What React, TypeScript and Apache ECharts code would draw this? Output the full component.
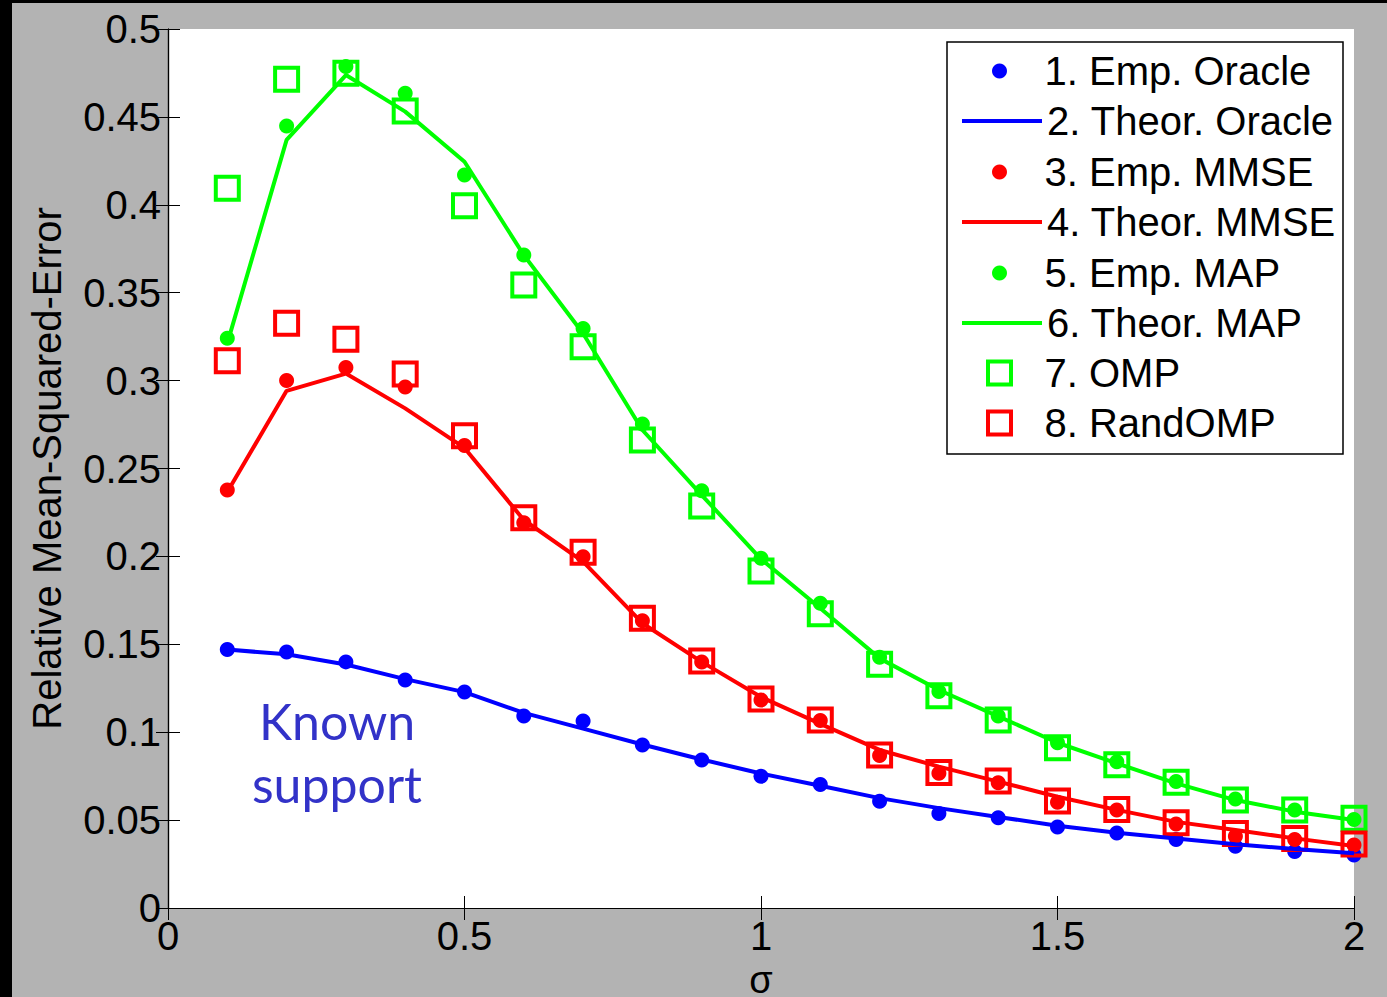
import React, { useEffect, useRef } from "react";
import * as echarts from "echarts";

const sigma = [0.1, 0.2, 0.3, 0.4, 0.5, 0.6, 0.7, 0.8, 0.9, 1.0, 1.1, 1.2, 1.3, 1.4, 1.5, 1.6, 1.7, 1.8, 1.9, 2.0];
const empOracle = [0.147, 0.1456, 0.140, 0.1297, 0.1229, 0.1092, 0.1064, 0.0927, 0.0842, 0.0749, 0.0702, 0.0607, 0.0537, 0.0513, 0.0461, 0.0426, 0.0389, 0.0351, 0.0322, 0.0301];
const theorOracle = [0.147, 0.1443, 0.1385, 0.1302, 0.1228, 0.111, 0.102, 0.093, 0.0845, 0.0765, 0.0695, 0.0625, 0.0568, 0.0518, 0.0468, 0.0428, 0.0395, 0.0363, 0.0335, 0.0312];
const empMMSE = [0.2378, 0.3, 0.3074, 0.2963, 0.2631, 0.2191, 0.1998, 0.1634, 0.1399, 0.1183, 0.1066, 0.0867, 0.0767, 0.0712, 0.0601, 0.0557, 0.0478, 0.0408, 0.0389, 0.0358];
const theorMMSE = [0.2366, 0.2942, 0.304, 0.2842, 0.2617, 0.2207, 0.197, 0.162, 0.14, 0.12, 0.1047, 0.0899, 0.0804, 0.0719, 0.0633, 0.0558, 0.049, 0.0444, 0.0396, 0.0353];
const empMAP = [0.3241, 0.4448, 0.4786, 0.4634, 0.417, 0.3714, 0.3297, 0.2753, 0.2374, 0.1989, 0.1733, 0.1426, 0.1231, 0.1092, 0.094, 0.0832, 0.0719, 0.062, 0.0557, 0.0504];
const theorMAP = [0.3212, 0.4369, 0.4738, 0.453, 0.4245, 0.3714, 0.3268, 0.2719, 0.2349, 0.1985, 0.1705, 0.142, 0.124, 0.109, 0.094, 0.0823, 0.0709, 0.0614, 0.0548, 0.05];
const omp = [0.4094, 0.4714, 0.4748, 0.4533, 0.3995, 0.3544, 0.3193, 0.2662, 0.2287, 0.1917, 0.1674, 0.1386, 0.1208, 0.1069, 0.0911, 0.0815, 0.0715, 0.0614, 0.0557, 0.051];
const randOmp = [0.3113, 0.3326, 0.3235, 0.3038, 0.2687, 0.222, 0.2023, 0.1648, 0.1405, 0.1189, 0.1069, 0.087, 0.0771, 0.0722, 0.0609, 0.0561, 0.0485, 0.0424, 0.0396, 0.0364];

const seriesNames = [
  "1. Emp. Oracle",
  "2. Theor. Oracle",
  "3. Emp. MMSE",
  "4. Theor. MMSE",
  "5. Emp. MAP",
  "6. Theor. MAP",
  "7. OMP",
  "8. RandOMP",
];
const xAxisName = "σ";
const yAxisName = "Relative Mean-Squared-Error";
const annotation = "Known\nsupport";

const BLUE = "#0000ff";
const RED = "#ff0000";
const GREEN = "#00ff00";
const FONT = "Liberation Sans";

const pairs = (ys: number[]) => sigma.map((s, i) => [s, ys[i]]);

export default function App() {
  const ref = useRef<HTMLDivElement>(null);
  useEffect(() => {
    if (!ref.current) return;
    const chart = echarts.init(ref.current, null, { renderer: "svg" });
    const dot = (name: string, color: string, data: number[]) => ({
      type: "scatter",
      name,
      data: pairs(data),
      symbol: "circle",
      symbolSize: 15,
      itemStyle: { color, opacity: 1 },
      clip: false,
    });
    const line = (name: string, color: string, data: number[]) => ({
      type: "line",
      name,
      data: pairs(data),
      symbol: "none",
      showSymbol: false,
      lineStyle: { color, width: 4 },
      itemStyle: { color },
    });
    const square = (name: string, color: string, data: number[]) => ({
      type: "scatter",
      name,
      data: pairs(data),
      symbol: "rect",
      symbolSize: 23,
      itemStyle: { color: "rgba(0,0,0,0)", borderColor: color, borderWidth: 4, opacity: 1 },
      clip: false,
    });

    const rowCenters = [72, 122, 173, 223, 274, 324, 374, 424];
    const legends = seriesNames.map((n, i) => {
      const isSquare = i >= 6;
      const isLine = i === 1 || i === 3 || i === 5;
      const base: any = {
        show: true,
        top: rowCenters[i] - 21,
        padding: 0,
        itemWidth: 80,
        itemGap: 0,
        selectedMode: false,
        textStyle: { fontSize: 40, color: "#000", fontFamily: FONT },
      };
      if (isSquare) {
        base.data = [{ name: n, icon: "path://M0,0H10V10H0Z" }];
        base.left = 986;
        base.itemHeight = 23;
        base.itemStyle = { borderWidth: 4, opacity: 1 };
      } else if (isLine) {
        base.data = [n];
        base.left = 960;
        base.itemHeight = 4;
        base.lineStyle = { width: 4 };
      } else {
        base.data = [n];
        base.left = 992;
        base.itemHeight = 15;
        base.itemStyle = { opacity: 1 };
      }
      return base;
    });

    const tickStyle = { show: true, inside: true, length: 12, lineStyle: { color: "#000", width: 1 } };
    const axisLine = { show: true, lineStyle: { color: "#000", width: 1.2 } };

    chart.setOption({
      animation: false,
      backgroundColor: "#b3b3b3",
      grid: {
        left: 168,
        top: 29,
        right: 33,
        bottom: 89,
        show: true,
        backgroundColor: "#fff",
        borderWidth: 0,
        outerBoundsMode: "none",
        containLabel: false,
      },
      xAxis: [
        {
          type: "value",
          min: 0,
          max: 2,
          interval: 0.5,
          position: "bottom",
          axisLine,
          axisTick: tickStyle,
          splitLine: { show: false },
          axisLabel: { fontSize: 40, color: "#000", fontFamily: FONT, margin: 8 },
          name: xAxisName,
          nameLocation: "middle",
          nameGap: 47,
          nameTextStyle: { fontSize: 38, color: "#000", fontFamily: FONT, lineHeight: 30 },
        },
        {
          type: "value",
          min: 0,
          max: 2,
          interval: 0.5,
          position: "top",
          axisLine,
          axisTick: tickStyle,
          splitLine: { show: false },
          axisLabel: { show: false },
        },
      ],
      yAxis: [
        {
          type: "value",
          min: 0,
          max: 0.5,
          interval: 0.05,
          position: "left",
          axisLine,
          axisTick: tickStyle,
          splitLine: { show: false },
          axisLabel: { fontSize: 40, color: "#000", fontFamily: FONT, margin: 7 },
          name: yAxisName,
          nameLocation: "middle",
          nameGap: 101,
          nameTextStyle: { fontSize: 40, color: "#000", fontFamily: FONT },
        },
        {
          type: "value",
          min: 0,
          max: 0.5,
          interval: 0.05,
          position: "right",
          axisLine,
          axisTick: tickStyle,
          splitLine: { show: false },
          axisLabel: { show: false },
        },
      ],
      legend: legends,
      graphic: [
        { type: "rect", shape: { x: 0, y: 0, width: 12, height: 997 }, style: { fill: "#000" }, z: 10 },
        { type: "rect", shape: { x: 0, y: 0, width: 1387, height: 3 }, style: { fill: "#000" }, z: 10 },
        {
          type: "rect",
          shape: { x: 947, y: 42, width: 396, height: 412 },
          style: { fill: "#fff", stroke: "#000", lineWidth: 1.5 },
          z: 3,
        },
        {
          type: "text",
          x: 337,
          y: 752,
          z: 5,
          style: {
            text: annotation,
            fill: "#3232c8",
            font: "50px Lato",
            textAlign: "center",
            textVerticalAlign: "middle",
            lineHeight: 63,
          },
        },
      ],
      series: [
        dot(seriesNames[0], BLUE, empOracle),
        line(seriesNames[1], BLUE, theorOracle),
        dot(seriesNames[2], RED, empMMSE),
        line(seriesNames[3], RED, theorMMSE),
        dot(seriesNames[4], GREEN, empMAP),
        line(seriesNames[5], GREEN, theorMAP),
        square(seriesNames[6], GREEN, omp),
        square(seriesNames[7], RED, randOmp),
      ],
    });
    return () => chart.dispose();
  }, []);
  return (
    <div
      ref={ref}
      style={{ position: "fixed", left: 0, top: 0, width: 1387, height: 997 }}
    />
  );
}
